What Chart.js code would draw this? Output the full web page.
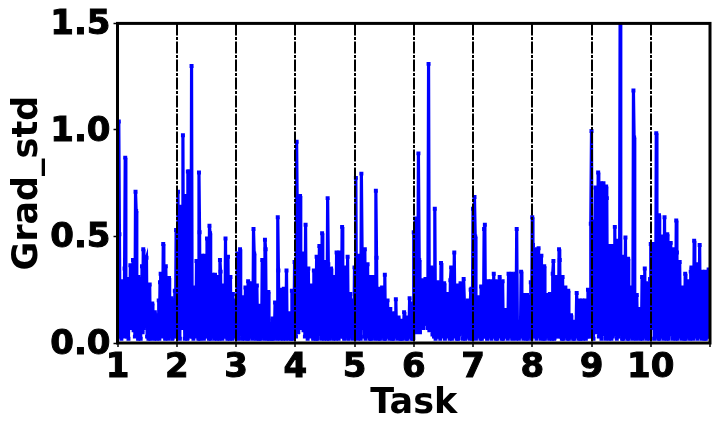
<!DOCTYPE html>
<html>
<head>
<meta charset="utf-8">
<style>
  html, body { margin: 0; padding: 0; background: #fff; }
</style>
<script src="https://cdn.jsdelivr.net/npm/chart.js@4"></script>
</head>
<body>
<canvas id="gradChart" width="720" height="432"></canvas>
<script>
// values, one list per task
const task1 = [.30,.04,1.04,.51,.03,.16,.02,.29,.05,.20,.03,.35,.87,.04,.22,.03,.30,.02,.18,.07,.365,.08,.25,.07,.39,.06,.20,.03,.71,.62,.04,.18,.02,.31,.03,.15,.02,.30,.36,.05,.44,.07,.28,.08,.39,.40,.03,.20,.02,.18,.275,.02,.12,.04,.185,.03,.14,.02,.145,.04,.11,.02,.13,.03,.20,.02,.285,.325,.05,.18,.03,.465,.04,.20,.02,.36,.18,.03,.14,.02,.305,.04,.16,.03,.21,.02,.15,.04,.185,.245,.03,.53];
const task2 = [.10,.03,.71,.05,.25,.02,.64,.07,.30,.09,.975,.08,.24,.02,.69,.03,.30,.02,.805,.04,.805,.05,.22,.03,1.30,.03,.20,.02,.26,.06,.18,.03,.385,.04,.22,.02,.80,.52,.02,.25,.05,.41,.03,.22,.02,.41,.03,.20,.04,.49,.06,.21,.02,.55,.515,.02,.18,.03,.32,.05,.20,.02,.32,.04,.16,.02,.31,.03,.18,.02,.39,.335,.03,.15,.02,.27,.06,.18,.03,.49,.03,.20,.02,.405,.04,.18,.02,.31,.04,.14,.02,.23,.05,.12,.03,.20];
const task3 = [.06,.03,.42,.02,.20,.04,.44,.07,.18,.02,.215,.03,.16,.02,.26,.05,.18,.02,.29,.02,.15,.03,.28,.04,.18,.02,.535,.42,.03,.18,.02,.27,.05,.14,.02,.175,.02,.12,.03,.39,.06,.20,.02,.485,.44,.03,.16,.02,.24,.02,.09,.04,.07,.02,.115,.02,.08,.03,.19,.05,.14,.02,.59,.34,.03,.16,.02,.25,.04,.15,.02,.255,.06,.14,.02,.34,.03,.10,.02,.14,.04,.09,.02,.245,.02,.12,.03,.38];
const task4 = [.08,.03,.945,.59,.05,.30,.07,.69,.08,.28,.07,.42,.06,.25,.03,.555,.04,.22,.02,.35,.05,.20,.03,.27,.05,.18,.02,.34,.03,.20,.02,.405,.02,.22,.04,.455,.06,.25,.02,.515,.04,.20,.02,.38,.03,.18,.02,.68,.37,.02,.16,.03,.35,.05,.18,.02,.31,.03,.20,.02,.425,.05,.18,.02,.425,.06,.20,.03,.545,.03,.18,.02,.355,.05,.20,.03,.405,.02,.14,.03,.23,.04,.12,.02,.20,.03];
const task5 = [.355,.03,.775,.03,.28,.02,.41,.05,.30,.02,.795,.43,.07,.25,.03,.44,.02,.22,.03,.37,.04,.18,.02,.31,.02,.16,.03,.31,.05,.18,.02,.715,.40,.03,.15,.02,.255,.02,.14,.03,.26,.05,.13,.02,.32,.02,.12,.03,.20,.03,.10,.02,.16,.05,.09,.02,.14,.02,.08,.03,.205,.04,.09,.02,.12,.03,.07,.02,.105,.02,.06,.03,.145,.03,.08,.02,.12,.02,.07,.03,.21,.03,.09,.02,.185,.02];
const task6 = [.52,.08,.585,.05,.30,.07,.89,.39,.05,.25,.08,.295,.07,.22,.09,.30,.09,.20,.07,1.31,.06,.24,.09,.355,.04,.25,.03,.63,.02,.22,.03,.285,.03,.18,.02,.375,.05,.20,.03,.28,.02,.16,.03,.23,.04,.15,.02,.295,.355,.02,.18,.03,.425,.04,.15,.02,.27,.02,.13,.04,.28,.05,.16,.02,.30,.185,.02,.10,.03,.20,.03,.12,.02,.25,.255,.02];
const task7 = [.63,.03,.685,.50,.02,.18,.03,.215,.04,.14,.02,.265,.02,.16,.03,.535,.555,.03,.20,.02,.29,.05,.18,.03,.29,.02,.16,.03,.325,.03,.18,.02,.29,.02,.15,.03,.31,.04,.17,.02,.29,.02,.12,.03,.155,.03,.10,.02,.325,.05,.15,.03,.325,.02,.14,.03,.32,.325,.02,.535,.04,.075,.02,.06,.03,.335,.05,.12,.02,.225,.03,.12,.02,.225,.02,.12,.03,.19,.285,.02];
const task8 = [.59,.46,.04,.22,.03,.44,.02,.25,.03,.445,.05,.22,.02,.41,.03,.20,.02,.36,.02,.14,.03,.225,.04,.12,.02,.23,.03,.18,.02,.325,.385,.02,.18,.03,.31,.05,.20,.03,.44,.39,.03,.18,.02,.31,.02,.16,.03,.26,.04,.12,.02,.245,.02,.08,.03,.13,.03,.07,.02,.10,.02,.06,.03,.235,.04,.10,.02,.20,.02,.09,.03,.20,.02,.10,.03,.20,.02,.12,.03,.25,.04,.12,.03,.56];
const task9 = [.995,.08,.57,.02,.30,.08,.73,.05,.32,.07,.80,.03,.30,.05,.75,.02,.32,.04,.75,.05,.30,.02,.735,.68,.03,.28,.02,.455,.04,.25,.02,.455,.03,.24,.04,.545,.05,.26,.02,.48,.03,.22,.04,1.62,.05,.22,.02,.405,.02,.20,.03,.495,.03,.18,.02,.395,.02,.16,.03,.26,.04,.15,.02,1.185,.965,.03,.14,.02,.225,.05,.12,.03,.16,.02,.11,.03,.31,.02,.15,.03,.35,.04,.18,.02,.28,.03,.14,.02,.30];
const task10 = [.465,.08,.25,.07,.465,.02,.28,.03,.985,.04,.28,.02,.60,.02,.25,.03,.50,.05,.24,.02,.59,.03,.25,.02,.51,.465,.02,.22,.04,.47,.04,.20,.02,.44,.03,.22,.02,.575,.425,.02,.18,.03,.38,.05,.16,.02,.26,.03,.14,.02,.325,.02,.16,.03,.29,.04,.16,.02,.335,.355,.03,.20,.02,.48,.05,.18,.03,.37,.02,.18,.03,.46,.03,.16,.02,.335,.04,.16,.02,.335,.02,.14,.03,.31,.345,.03];

const tasks = [task1, task2, task3, task4, task5, task6, task7, task8, task9, task10];
const xTicks = [1, 2, 3, 4, 5, 6, 7, 8, 9, 10];
const yTicks = [0, 0.5, 1, 1.5];

// each task's values sit evenly between its tick and the next one
const points = [];
tasks.forEach((values, t) => {
  values.forEach((v, i) => {
    points.push({ x: xTicks[t] + i / values.length, y: v });
  });
});

const frame = {
  id: 'frame',
  afterDatasetsDraw(chart) {
    const a = chart.chartArea;
    const ctx = chart.ctx;
    ctx.save();
    ctx.strokeStyle = '#000';
    ctx.lineWidth = 3;
    ctx.strokeRect(a.left, a.top, a.right - a.left, a.bottom - a.top);
    ctx.restore();
  }
};

const bold = size => ({ family: '"DejaVu Sans"', weight: 'bold', size: size });

new Chart(document.getElementById('gradChart'), {
  type: 'line',
  data: {
    datasets: [{
      data: points,
      borderColor: '#0000ff',
      backgroundColor: '#0000ff',
      borderWidth: 3.2,
      pointStyle: 'rect',
      pointRadius: 2.8,
      pointBorderWidth: 0,
      tension: 0
    }]
  },
  options: {
    responsive: false,
    animation: false,
    layout: { padding: { top: 23, right: 10, bottom: 0, left: 0 } },
    plugins: { legend: { display: false }, tooltip: { enabled: false } },
    scales: {
      x: {
        type: 'linear',
        min: 1,
        max: 11,
        afterBuildTicks: s => { s.ticks = xTicks.concat(11).map(v => ({ value: v })); },
        afterFit: s => { s.height = 89; },
        ticks: {
          color: '#000',
          font: bold(34),
          padding: 1,
          textStrokeColor: '#000',
          textStrokeWidth: 1,
          maxRotation: 0,
          autoSkip: false,
          callback: v => (xTicks.includes(v) ? String(v) : '')
        },
        grid: { color: '#000', lineWidth: 2, z: 1, tickLength: 4, tickColor: '#000', tickWidth: 1.5 },
        border: { display: false, dash: [12, 1.5, 3, 1.5] },
        title: { display: true, text: 'Task', color: '#000', font: bold(35), padding: { top: 0, bottom: 7 } }
      },
      y: {
        min: 0,
        max: 1.5,
        afterBuildTicks: s => { s.ticks = yTicks.map(v => ({ value: v })); },
        afterFit: s => { s.width = 117.5; },
        ticks: {
          color: '#000',
          font: bold(34),
          padding: 3,
          labelOffset: 2,
          textStrokeColor: '#000',
          textStrokeWidth: 1,
          callback: v => v.toFixed(1)
        },
        grid: { drawOnChartArea: false, tickLength: 4, tickColor: '#000', tickWidth: 1.5 },
        border: { display: false },
        title: { display: true, text: 'Grad_std', color: '#000', font: bold(35), padding: { top: 7, bottom: 0 } }
      }
    }
  },
  plugins: [frame]
});
</script>
</body>
</html>
